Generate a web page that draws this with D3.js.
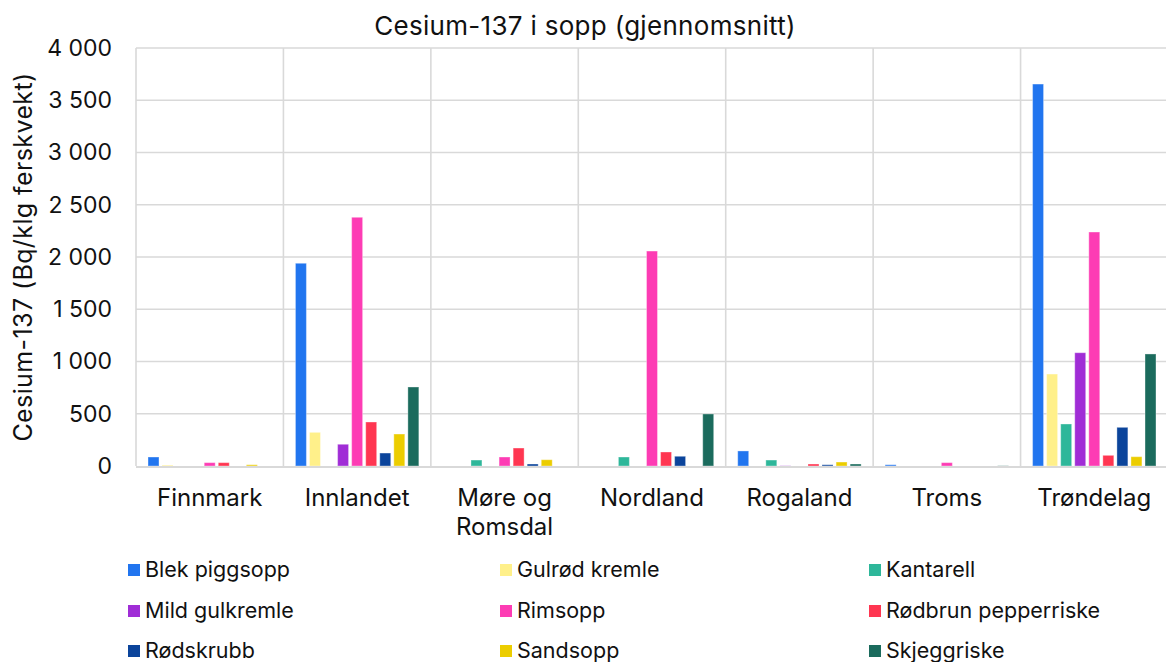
<!DOCTYPE html>
<html><head><meta charset="utf-8">
<script src="https://cdn.jsdelivr.net/npm/d3@7"></script>
<style>
html,body{margin:0;padding:0;background:#fff;}
svg{display:block;font-family:Inter,"Noto Sans",sans-serif;}
</style></head>
<body>
<svg id="chart" width="1166" height="662"></svg>
<script>
const regions = ["Finnmark","Innlandet","Møre og Romsdal","Nordland","Rogaland","Troms","Trøndelag"];
const species = ["Blek piggsopp","Gulrød kremle","Kantarell","Mild gulkremle","Rimsopp","Rødbrun pepperriske","Rødskrubb","Sandsopp","Skjeggriske"];
const colors = ["#2175ef","#fff08a","#2eb79a","#a02dd6","#fd3cb4","#ff3651","#0b449b","#eccd00","#1b6b5d"];
// values per species, in region order
const blekPiggsopp      = [86, 1940, 0, 0, 144, 12, 3655];
const gulrodKremle      = [8, 322, 0, 0, 0, 0, 880];
const kantarell         = [0, 0, 57, 86, 57, 0, 402];
const mildGulkremle     = [0, 208, 0, 0, 2, 0, 1084];
const rimsopp           = [32, 2380, 86, 2057, 0, 32, 2239];
const rodbrunPepperriske= [32, 421, 172, 134, 19, 0, 102];
const rodskrubb         = [0, 124, 19, 93, 12, 0, 370];
const sandsopp          = [12, 306, 60, 0, 38, 0, 89];
const skjeggriske       = [0, 756, 0, 498, 19, 2, 1072];
const yTicks = [0,500,1000,1500,2000,2500,3000,3500,4000];
const chartTitle = "Cesium-137 i sopp (gjennomsnitt)";
const yTitle = "Cesium-137 (Bq/klg ferskvekt)";

const seriesValues = [blekPiggsopp,gulrodKremle,kantarell,mildGulkremle,rimsopp,rodbrunPepperriske,rodskrubb,sandsopp,skjeggriske];

const svg = d3.select("#chart");
const pLeft = 136, pRight = 1168, pTop = 48, pBottom = 466;

const x0 = d3.scaleBand().domain(regions).range([pLeft, pRight]).paddingInner(0).paddingOuter(0);
const x1 = d3.scaleBand().domain(species).range([0, x0.bandwidth()]).paddingInner(0.22).paddingOuter(0.855);
const y = d3.scaleLinear().domain([0, 4000]).range([pBottom, pTop]);

// horizontal gridlines
svg.append("g").selectAll("line").data(yTicks.filter(t => t > 0)).join("line")
  .attr("x1", pLeft).attr("x2", pRight)
  .attr("y1", d => y(d)).attr("y2", d => y(d))
  .attr("stroke", "#d9d9d9").attr("stroke-width", 1.6);

// vertical separators
const sepX = regions.map(r => x0(r));
svg.append("g").selectAll("line").data(sepX).join("line")
  .attr("x1", d => d).attr("x2", d => d)
  .attr("y1", pTop).attr("y2", pBottom)
  .attr("stroke", "#d9d9d9").attr("stroke-width", 1.6);

// y axis tick labels
const yAxis = d3.axisLeft(y).tickValues(yTicks).tickSize(0).tickPadding(0)
  .tickFormat(d => d3.format(",")(d).replace(/,/g, " "));
const gy = svg.append("g").attr("transform", `translate(112,0)`).call(yAxis);
gy.select(".domain").remove();
gy.selectAll("text").attr("font-size", 23).attr("fill", "#111").attr("font-family", "Inter, sans-serif");

// bars
const data = [];
regions.forEach((r, ri) => species.forEach((s, si) => data.push({r, s, si, v: seriesValues[si][ri]})));
svg.append("g").selectAll("rect").data(data).join("rect")
  .attr("x", d => x0(d.r) + x1(d.s))
  .attr("width", x1.bandwidth())
  .attr("y", d => y(d.v))
  .attr("height", d => y(0) - y(d.v))
  .attr("fill", d => colors[d.si])
  .attr("stroke", "rgba(255,255,255,0.35)").attr("stroke-width", 1);

// bottom axis line
svg.append("line").attr("x1", pLeft).attr("x2", pRight).attr("y1", pBottom + 1).attr("y2", pBottom + 1)
  .attr("stroke", "#d9d9d9").attr("stroke-width", 2.2);

// category labels
const xAxis = d3.axisBottom(x0).tickSize(0).tickPadding(0);
const gx = svg.append("g").attr("transform", `translate(0,${pBottom})`).call(xAxis);
gx.select(".domain").remove();
gx.selectAll("text").each(function(d) {
  const t = d3.select(this).text("").attr("font-size", 24).attr("fill", "#111")
    .attr("font-family", "Inter, sans-serif").attr("y", 0).attr("dy", null);
  const lines = d === "Møre og Romsdal" ? ["Møre og", "Romsdal"] : [d];
  lines.forEach((l, i) => t.append("tspan").attr("x", 0).attr("y", 40 + i * 29).text(l));
});

// title
svg.append("text").attr("x", 585).attr("y", 35).attr("text-anchor", "middle")
  .attr("font-size", 26).attr("letter-spacing", 0.3).attr("fill", "#111").text(chartTitle);

// y title
svg.append("text").attr("transform", "translate(32,257) rotate(-90)").attr("text-anchor", "middle")
  .attr("font-size", 25).attr("letter-spacing", 0.4).attr("fill", "#111").text(yTitle);

// legend
const colX = [128, 500, 869], rowY = [570, 611, 651];
const lg = svg.append("g").selectAll("g").data(species).join("g")
  .attr("transform", (d, i) => `translate(${colX[i % 3]},${rowY[Math.floor(i / 3)]})`);
lg.append("rect").attr("x", 0).attr("y", -6).attr("width", 12).attr("height", 12)
  .attr("fill", (d, i) => colors[i]);
lg.append("text").attr("x", 17).attr("y", 7).attr("font-size", 21.5).attr("fill", "#111").text(d => d);
</script>
</body></html>
